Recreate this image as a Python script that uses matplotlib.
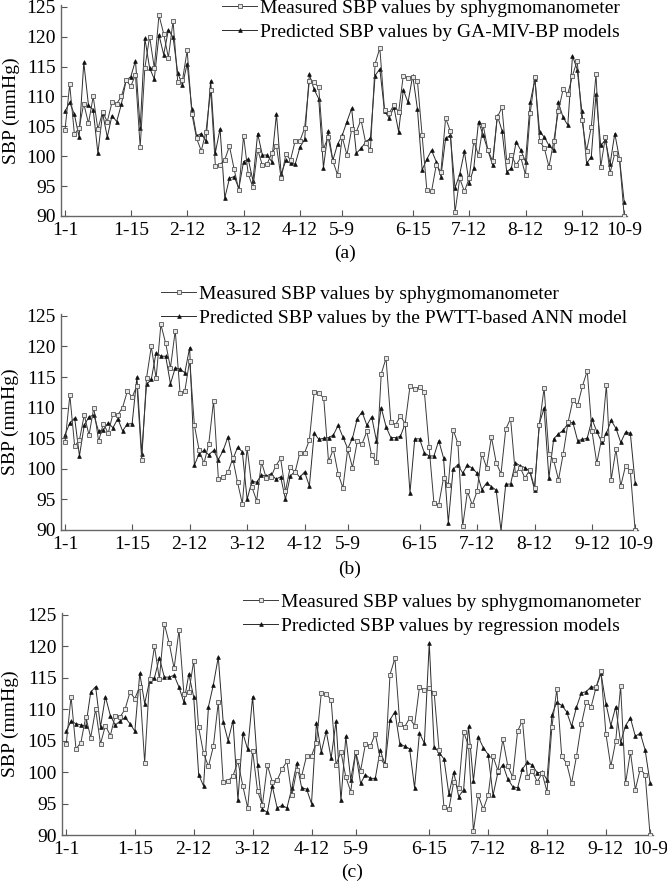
import numpy as np
import matplotlib
matplotlib.use("Agg")
import matplotlib.pyplot as plt

plt.rcParams['font.family'] = ['Liberation Serif', 'DejaVu Serif']

# measured SBP (same in all three panels)
measured = [104.4, 112.0, 103.7, 104.7, 108.8, 105.5, 110.0, 104.5, 107.4, 105.8,
            109.0, 108.8, 110.0, 112.7, 111.7, 113.6, 101.5, 114.8, 120.0, 114.8,
            123.6, 120.5, 116.5, 122.6, 112.4, 112.7, 117.7, 107.1, 103.0, 100.9,
            104.1, 111.1, 98.4, 98.6, 99.4, 101.7, 97.8, 94.3, 103.4, 97.0,
            94.8, 101.1, 98.5, 98.7, 100.5, 101.7, 96.3, 100.3, 99.4, 102.6,
            102.6, 104.7, 112.6, 112.4, 111.5, 101.2, 103.2, 99.2, 96.9, 103.2,
            100.2, 104.5, 104.1, 106.1, 102.2, 101.1, 115.5, 118.1, 107.7, 107.2,
            108.6, 107.4, 113.5, 113.1, 113.3, 112.6, 103.5, 94.4, 94.1, 98.5,
            97.4, 106.4, 104.2, 90.6, 96.3, 94.1, 96.3, 102.5, 100.2, 105.2,
            101.0, 99.2, 106.5, 108.2, 99.2, 100.2, 98.5, 99.8, 96.9, 107.2,
            113.2, 102.5, 101.4, 98.2, 102.5, 107.6, 111.2, 110.4, 113.5, 116.0,
            106.1, 100.9, 104.9, 113.7, 98.2, 103.2, 97.2, 100.5, 99.6, 90.0]

pred_ga = [107.5, 109.0, 107.0, 103.2, 115.7, 108.5, 107.8, 100.5, 107.2, 103.2,
           106.8, 105.8, 108.7, 112.7, 113.3, 116.0, 104.7, 119.7, 114.8, 112.9,
           120.3, 117.0, 121.1, 119.9, 113.9, 111.9, 115.5, 107.9, 103.4, 103.8,
           102.5, 112.6, 100.6, 104.6, 93.0, 96.3, 96.6, 94.6, 99.1, 99.5,
           95.9, 103.8, 100.2, 100.2, 99.1, 107.1, 97.0, 99.3, 98.8, 98.7,
           101.5, 102.8, 113.7, 111.2, 109.6, 98.1, 104.2, 99.3, 102.0, 103.5,
           105.8, 108.0, 100.5, 101.3, 102.4, 103.0, 113.5, 114.6, 107.5, 106.4,
           108.2, 104.1, 111.1, 109.0, 113.5, 107.9, 97.7, 99.5, 101.0, 99.1,
           96.6, 103.0, 103.5, 94.7, 97.0, 100.8, 95.5, 98.0, 105.8, 103.5,
           101.0, 98.5, 106.8, 104.3, 97.4, 98.0, 102.4, 101.0, 99.1, 109.0,
           112.9, 104.1, 103.2, 101.8, 101.0, 109.0, 106.5, 105.2, 116.8, 114.5,
           107.5, 98.8, 99.9, 110.4, 101.8, 102.7, 98.7, 103.8, 99.6, 92.4]

pred_ann = [105.6, 107.5, 108.3, 102.1, 107.1, 108.5, 108.8, 106.1, 106.4, 107.5,
            106.7, 108.2, 106.2, 107.3, 107.4, 115.0, 102.5, 113.8, 114.6, 119.0,
            118.4, 118.4, 113.9, 116.5, 116.3, 115.7, 119.8, 100.6, 102.5, 103.0,
            102.3, 103.0, 101.5, 103.0, 105.2, 101.5, 103.5, 102.8, 95.0, 98.0,
            97.8, 99.0, 98.8, 99.2, 98.3, 98.7, 95.0, 98.8, 99.6, 98.6,
            99.5, 97.2, 105.8, 104.8, 105.0, 105.1, 105.5, 107.1, 105.2, 103.3,
            105.0, 108.2, 109.3, 107.1, 108.5, 104.6, 110.0, 106.9, 105.1, 105.1,
            105.3, 107.4, 96.1, 104.9, 104.9, 102.6, 102.1, 102.1, 104.6, 101.8,
            91.2, 99.9, 100.7, 99.3, 100.6, 100.1, 99.3, 96.6, 97.7, 97.1,
            96.5, 89.9, 97.5, 97.5, 101.0, 100.5, 100.2, 99.6, 96.6, 107.4,
            109.9, 98.5, 104.9, 105.7, 106.3, 107.4, 107.6, 104.6, 104.8, 105.0,
            108.1, 106.1, 104.4, 105.8, 107.9, 106.6, 104.3, 106.0, 105.8, 97.7]

pred_reg = [106.5, 108.1, 107.7, 107.5, 107.3, 112.7, 113.6, 107.2, 112.0, 109.0,
            107.5, 108.1, 108.7, 107.7, 106.5, 115.7, 110.9, 114.5, 115.0, 118.2,
            115.1, 115.1, 115.4, 113.5, 111.1, 115.6, 111.9, 99.6, 97.8, 110.4,
            113.9, 118.3, 108.0, 105.0, 108.2, 95.5, 106.2, 103.6, 112.0, 101.1,
            94.1, 93.6, 97.8, 94.3, 94.7, 94.3, 97.5, 101.4, 97.5, 97.3,
            95.0, 107.8, 103.2, 106.5, 102.2, 108.1, 95.5, 105.7, 98.8, 103.2,
            98.2, 99.6, 99.0, 99.0, 103.5, 101.2, 108.3, 109.6, 104.5, 104.1,
            103.7, 97.5, 106.2, 104.6, 120.5, 104.0, 103.1, 102.1, 96.5, 100.0,
            96.1, 97.2, 107.3, 98.6, 105.6, 103.9, 102.8, 96.3, 100.0, 101.2,
            98.9, 97.7, 97.5, 100.5, 101.6, 101.1, 99.9, 100.0, 98.8, 109.1,
            111.1, 110.6, 109.6, 107.3, 110.3, 112.6, 112.8, 113.6, 113.4, 115.7,
            110.9, 107.4, 110.4, 104.7, 107.4, 108.6, 105.7, 106.2, 103.5, 98.3]

tick_pos = [0, 14, 26, 38, 50, 59, 74, 86, 98, 110, 119]
tick_labels = ['1-1', '1-15', '2-12', '3-12', '4-12', '5-9', '6-15', '7-12',
               '8-12', '9-12', '10-9']

panels = [
    (pred_ga, 'Predicted SBP values by GA-MIV-BP models', '(a)'),
    (pred_ann, 'Predicted SBP values by the PWTT-based ANN model', '(b)'),
    (pred_reg, 'Predicted SBP values by regression models', '(c)'),
]

W, H = 667, 882
fig = plt.figure(figsize=(W / 100, H / 100), dpi=100)

# axes boxes in pixels: left, right, top, bottom
boxes = [(61, 627, 5, 216), (61, 638, 314, 530), (62, 653, 613, 835)]
# legend anchor (handle left x, top y) in pixels, and panel label position
leg_anchor = [(222, -1), (161, 285), (243, 593)]
lab_pos = [(345, 253), (350, 569), (352, 872)]

FS = 14
x = np.arange(len(measured))

for k, (pred, lab, tag) in enumerate(panels):
    l, r, t, b = boxes[k]
    ax = fig.add_axes([l / W, 1 - b / H, (r - l) / W, (b - t) / H])
    ax.plot(x, pred, '-', color='#2a2a2a', lw=0.7, marker='^', ms=2.7,
            mfc='#111111', mec='#111111', mew=0.5, label=lab, zorder=2)
    ax.plot(x, measured, '-', color='#3a3a3a', lw=0.7, marker='s', ms=2.6,
            mfc='#e6e6e6', mec='#555555', mew=0.6,
            label='Measured SBP values by sphygmomanometer', zorder=3)
    ax.set_xlim(-0.85, 119.6)
    ax.set_ylim(90, 125.3)
    ax.set_yticks(np.arange(90, 126, 5))
    ax.set_xticks(tick_pos)
    ax.set_xticklabels(tick_labels)
    ax.tick_params(direction='in', labelsize=FS, length=4, width=0.8,
                   colors='#555555', labelcolor='black', pad=4)
    for s in ['top', 'right']:
        ax.spines[s].set_visible(False)
    for s in ['left', 'bottom']:
        ax.spines[s].set_color('#666666')
        ax.spines[s].set_linewidth(1.0)
    ax.set_ylabel('SBP (mmHg)', fontsize=FS)
    ax.yaxis.set_label_coords(-0.072, 0.5)

    h, lbl = ax.get_legend_handles_labels()
    ax.legend(h[::-1], lbl[::-1], loc='upper left',
              bbox_to_anchor=(leg_anchor[k][0] / W, 1 - leg_anchor[k][1] / H),
              bbox_transform=fig.transFigure, frameon=False, fontsize=FS,
              borderpad=0, borderaxespad=0, handlelength=1.8,
              handletextpad=0.15, labelspacing=0.35, numpoints=1)
    fig.text(lab_pos[k][0] / W, 1 - lab_pos[k][1] / H, tag, fontsize=FS,
             ha='center', va='center')

fig.savefig('out.png', dpi=100)
